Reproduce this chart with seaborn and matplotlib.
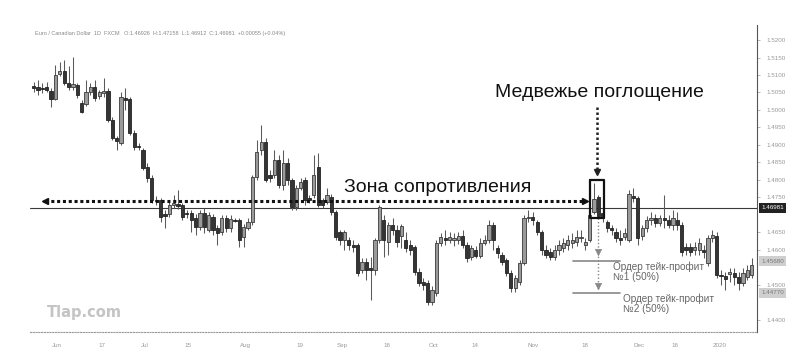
import numpy as np
import pandas as pd
import matplotlib
matplotlib.use("Agg")
import matplotlib.pyplot as plt
import seaborn as sns

# ---- data (EUR/CAD, daily) ----
opens = [1.5068, 1.5065, 1.5063, 1.5065, 1.5054, 1.5031, 1.5103, 1.5111, 1.5077, 1.5065,
         1.5071, 1.5020, 1.5017, 1.5051, 1.5065, 1.5040, 1.5048, 1.5054, 1.4971, 1.4920,
         1.4905, 1.5034, 1.5031, 1.4934, 1.4897, 1.4885, 1.4837, 1.4805, 1.4743, 1.4743,
         1.4703, 1.4703, 1.4728, 1.4731, 1.4728, 1.4705, 1.4705, 1.4691, 1.4665, 1.4705,
         1.4657, 1.4694, 1.4663, 1.4651, 1.4691, 1.4663, 1.4685, 1.4685, 1.4637, 1.4663,
         1.4680, 1.4808, 1.4885, 1.4908, 1.4814, 1.4814, 1.4857, 1.4785, 1.4848, 1.4800,
         1.4723, 1.4777, 1.4800, 1.4748, 1.4757, 1.4837, 1.4743, 1.4737, 1.4751, 1.4708,
         1.4651, 1.4628, 1.4628, 1.4614, 1.4614, 1.4543, 1.4565, 1.4548, 1.4543, 1.4628,
         1.4685, 1.4623, 1.4671, 1.4657, 1.4640, 1.4628, 1.4614, 1.4608, 1.4537, 1.4508,
         1.4505, 1.4451, 1.4477, 1.4620, 1.4634, 1.4628, 1.4628, 1.4628, 1.4640, 1.4614,
         1.4580, 1.4600, 1.4583, 1.4620, 1.4628, 1.4671, 1.4605, 1.4585, 1.4571, 1.4534,
         1.4491, 1.4508, 1.4563, 1.4691, 1.4694, 1.4680, 1.4651, 1.4600, 1.4594, 1.4580,
         1.4600, 1.4605, 1.4614, 1.4620, 1.4623, 1.4634, 1.4614, 1.4628, 1.4708, 1.4751,
         1.4705, 1.4680, 1.4663, 1.4651, 1.4634, 1.4637, 1.4628, 1.4754, 1.4748, 1.4640,
         1.4663, 1.4685, 1.4691, 1.4677, 1.4691, 1.4685, 1.4671, 1.4685, 1.4671, 1.4608,
         1.4608, 1.4600, 1.4600, 1.4600, 1.4563, 1.4634, 1.4640, 1.4528, 1.4525, 1.4531,
         1.4534, 1.4523, 1.4505, 1.4523, 1.4528]
highs = [1.5080, 1.5085, 1.5077, 1.5080, 1.5063, 1.5128, 1.5137, 1.5143, 1.5125, 1.5151,
         1.5077, 1.5028, 1.5085, 1.5077, 1.5085, 1.5057, 1.5091, 1.5063, 1.4980, 1.4925,
         1.5051, 1.5063, 1.5037, 1.4943, 1.4905, 1.4891, 1.4848, 1.4814, 1.4754, 1.4748,
         1.4714, 1.4743, 1.4757, 1.4771, 1.4734, 1.4714, 1.4714, 1.4703, 1.4714, 1.4720,
         1.4708, 1.4703, 1.4671, 1.4700, 1.4700, 1.4700, 1.4691, 1.4691, 1.4674, 1.4691,
         1.4814, 1.4914, 1.4957, 1.4920, 1.4828, 1.4885, 1.4871, 1.4885, 1.4863, 1.4805,
         1.4785, 1.4805, 1.4808, 1.4757, 1.4871, 1.4877, 1.4748, 1.4777, 1.4760, 1.4714,
         1.4657, 1.4657, 1.4637, 1.4628, 1.4620, 1.4577, 1.4577, 1.4580, 1.4634, 1.4728,
         1.4700, 1.4680, 1.4691, 1.4671, 1.4674, 1.4651, 1.4628, 1.4614, 1.4548, 1.4520,
         1.4514, 1.4497, 1.4628, 1.4648, 1.4657, 1.4651, 1.4648, 1.4651, 1.4657, 1.4623,
         1.4614, 1.4611, 1.4634, 1.4643, 1.4685, 1.4680, 1.4614, 1.4594, 1.4577, 1.4543,
         1.4528, 1.4571, 1.4700, 1.4714, 1.4708, 1.4685, 1.4657, 1.4614, 1.4605, 1.4614,
         1.4628, 1.4634, 1.4643, 1.4648, 1.4657, 1.4657, 1.4634, 1.4708, 1.4791, 1.4757,
         1.4714, 1.4685, 1.4671, 1.4663, 1.4657, 1.4663, 1.4771, 1.4777, 1.4754, 1.4671,
         1.4697, 1.4708, 1.4703, 1.4700, 1.4757, 1.4700, 1.4714, 1.4708, 1.4680, 1.4620,
         1.4620, 1.4623, 1.4634, 1.4614, 1.4643, 1.4657, 1.4651, 1.4543, 1.4537, 1.4548,
         1.4548, 1.4537, 1.4548, 1.4557, 1.4577]
lows = [1.5051, 1.5043, 1.5048, 1.5051, 1.5008, 1.5028, 1.5097, 1.5071, 1.5057, 1.5057,
        1.5034, 1.4991, 1.5011, 1.5043, 1.5025, 1.5031, 1.5037, 1.4965, 1.4914, 1.4885,
        1.4900, 1.5000, 1.4928, 1.4885, 1.4885, 1.4828, 1.4794, 1.4734, 1.4728, 1.4680,
        1.4663, 1.4694, 1.4720, 1.4717, 1.4685, 1.4691, 1.4651, 1.4643, 1.4657, 1.4648,
        1.4651, 1.4643, 1.4614, 1.4643, 1.4651, 1.4651, 1.4680, 1.4608, 1.4608, 1.4657,
        1.4671, 1.4800, 1.4871, 1.4794, 1.4794, 1.4805, 1.4777, 1.4771, 1.4785, 1.4714,
        1.4714, 1.4771, 1.4728, 1.4734, 1.4748, 1.4723, 1.4720, 1.4731, 1.4700, 1.4628,
        1.4614, 1.4600, 1.4600, 1.4594, 1.4525, 1.4534, 1.4514, 1.4457, 1.4528, 1.4620,
        1.4580, 1.4585, 1.4643, 1.4608, 1.4605, 1.4594, 1.4585, 1.4528, 1.4497, 1.4485,
        1.4443, 1.4443, 1.4468, 1.4611, 1.4614, 1.4620, 1.4611, 1.4617, 1.4605, 1.4565,
        1.4571, 1.4577, 1.4577, 1.4614, 1.4620, 1.4600, 1.4577, 1.4557, 1.4525, 1.4480,
        1.4480, 1.4500, 1.4557, 1.4680, 1.4671, 1.4643, 1.4585, 1.4577, 1.4571, 1.4571,
        1.4585, 1.4594, 1.4600, 1.4605, 1.4611, 1.4623, 1.4600, 1.4623, 1.4703, 1.4694,
        1.4680, 1.4651, 1.4643, 1.4623, 1.4614, 1.4628, 1.4623, 1.4737, 1.4614, 1.4628,
        1.4651, 1.4671, 1.4665, 1.4668, 1.4663, 1.4663, 1.4657, 1.4657, 1.4583, 1.4585,
        1.4583, 1.4585, 1.4585, 1.4577, 1.4555, 1.4623, 1.4520, 1.4500, 1.4485, 1.4508,
        1.4500, 1.4485, 1.4497, 1.4514, 1.4520]
closes = [1.5063, 1.5057, 1.5060, 1.5057, 1.5031, 1.5100, 1.5111, 1.5077, 1.5065, 1.5074,
          1.5043, 1.4994, 1.5051, 1.5065, 1.5034, 1.5051, 1.5054, 1.4971, 1.4920, 1.4911,
          1.5037, 1.5028, 1.4934, 1.4894, 1.4894, 1.4834, 1.4805, 1.4743, 1.4740, 1.4694,
          1.4697, 1.4728, 1.4734, 1.4725, 1.4694, 1.4703, 1.4685, 1.4665, 1.4705, 1.4665,
          1.4700, 1.4657, 1.4648, 1.4691, 1.4663, 1.4688, 1.4683, 1.4628, 1.4665, 1.4680,
          1.4808, 1.4880, 1.4908, 1.4800, 1.4805, 1.4857, 1.4785, 1.4848, 1.4800, 1.4723,
          1.4777, 1.4794, 1.4743, 1.4743, 1.4814, 1.4728, 1.4728, 1.4757, 1.4708, 1.4637,
          1.4628, 1.4651, 1.4614, 1.4608, 1.4534, 1.4565, 1.4543, 1.4543, 1.4628, 1.4723,
          1.4628, 1.4671, 1.4657, 1.4623, 1.4668, 1.4605, 1.4600, 1.4537, 1.4505, 1.4500,
          1.4451, 1.4485, 1.4620, 1.4637, 1.4628, 1.4637, 1.4634, 1.4640, 1.4614, 1.4577,
          1.4605, 1.4583, 1.4620, 1.4628, 1.4671, 1.4628, 1.4591, 1.4565, 1.4534, 1.4491,
          1.4520, 1.4563, 1.4691, 1.4694, 1.4685, 1.4651, 1.4600, 1.4585, 1.4580, 1.4600,
          1.4614, 1.4620, 1.4628, 1.4628, 1.4637, 1.4637, 1.4623, 1.4700, 1.4745, 1.4697,
          1.4691, 1.4663, 1.4657, 1.4634, 1.4628, 1.4648, 1.4760, 1.4748, 1.4634, 1.4663,
          1.4685, 1.4691, 1.4677, 1.4691, 1.4685, 1.4671, 1.4691, 1.4671, 1.4594, 1.4600,
          1.4594, 1.4608, 1.4620, 1.4594, 1.4634, 1.4643, 1.4528, 1.4525, 1.4517, 1.4537,
          1.4523, 1.4505, 1.4534, 1.4543, 1.4557]

date_ticks = [5.4, 15.6, 25.5, 35.3, 48.3, 60.8, 70.4, 80.7, 91.4, 100.8, 114.0, 125.9, 138.2, 146.5, 156.7]
date_labels = ["Jun", "17", "Jul", "15", "Aug", "19", "Sep", "16", "Oct", "14", "Nov", "18", "Dec", "16", "2020"]
price_ticks = [1.520, 1.515, 1.510, 1.505, 1.500, 1.495, 1.490, 1.485, 1.480, 1.475,
               1.465, 1.460, 1.450, 1.440]

resistance = 1.4720
last_price_label = "1.46981"
tp1_price, tp1_label = 1.4568, "1.45680"
tp2_price, tp2_label = 1.4477, "1.44770"
engulf_idx = [128, 129]

header = ("Euro / Canadian Dollar  1D  FXCM   O:1.46926  H:1.47158  L:1.46912  "
          "C:1.46981  +0.00055 (+0.04%)")

df = pd.DataFrame({"day": np.arange(len(opens)), "open": opens, "high": highs,
                   "low": lows, "close": closes})

sns.set_theme(style="white")
plt.rcParams['font.family'] = ['Liberation Sans', 'DejaVu Sans']

fig = plt.figure(figsize=(8, 3.63), dpi=100)
ax = fig.add_axes([0.0375, 0.0854, 0.90875, 0.8457])
ax.set_facecolor("white")

up = df["close"] >= df["open"]
body = np.maximum((df["close"] - df["open"]).abs(), 0.00018)
bottom = np.minimum(df["open"], df["close"])

ax.vlines(df["day"], df["low"], df["high"], color="#5a5a5a", lw=0.75, zorder=2)
ax.bar(df["day"][up], body[up], bottom=bottom[up], width=0.74,
       color="#9a9a9a", edgecolor="#3a3a3a", linewidth=0.6, zorder=3)
ax.bar(df["day"][~up], body[~up], bottom=bottom[~up], width=0.74,
       color="#353535", edgecolor="#222222", linewidth=0.6, zorder=3)

# resistance line
ax.axhline(resistance, color="#3a3a3a", lw=0.8, zorder=1)

ax.set_xlim(-0.8, 165.2)
ax.set_ylim(1.4365, 1.5243)

# zone arrow (dotted, both directions)
ax.plot([2.6, 125.9], [1.4740, 1.4740], ls=(0, (1.0, 0.9)), color="#111", lw=2.2, zorder=4)
ax.plot([2.6], [1.4740], marker="<", color="#111", ms=5, zorder=4)
ax.plot([125.9], [1.4740], marker=">", color="#111", ms=5, zorder=4)
ax.text(92.4, 1.4777, "Зона сопротивления", ha="center", va="center",
        fontsize=14, color="#111", zorder=5)

# bearish engulfing label and arrow
ax.text(129.3, 1.5051, "Медвежье поглощение", ha="center", va="center",
        fontsize=14, color="#111", zorder=5)
ax.plot([128.7, 128.7], [1.5008, 1.4830], ls=(0, (1.0, 1.0)), color="#222", lw=1.8, zorder=4)
ax.plot([128.7], [1.4822], marker="v", color="#222", ms=5, zorder=4)
x0, x1 = engulf_idx[0] - 0.9, engulf_idx[1] + 1.2
ax.plot([x0, x1, x1, x0, x0], [1.4800, 1.4800, 1.4692, 1.4692, 1.4800],
        color="#111", lw=1.6, zorder=5)

# take profit levels
ax.plot([128.8, 128.8], [1.4690, 1.4486], ls=(0, (1.0, 1.5)), color="#888", lw=1.0, zorder=4)
sns.scatterplot(x=[128.8, 128.8], y=[1.4594, 1.4497], marker="v", color="#888",
                s=22, edgecolor="#888", ax=ax, zorder=5, legend=False)
ax.plot([123.2, 133.9], [tp1_price, tp1_price], color="#888", lw=1.2, zorder=4)
ax.plot([123.2, 133.9], [tp2_price, tp2_price], color="#888", lw=1.2, zorder=4)
ax.text(132.3, 1.4566, "Ордер тейк-профит\n№1 (50%)", ha="left", va="top",
        fontsize=7.2, color="#666", linespacing=1.0, zorder=5)
ax.text(134.7, 1.4474, "Ордер тейк-профит\n№2 (50%)", ha="left", va="top",
        fontsize=7.2, color="#666", linespacing=1.0, zorder=5)

# axes styling
for s in ["left", "top"]:
    ax.spines[s].set_visible(False)
ax.spines["right"].set_color("#555")
ax.spines["right"].set_linewidth(0.8)
ax.spines["bottom"].set_color("#999")
ax.spines["bottom"].set_linestyle((0, (1, 1.5)))
ax.spines["bottom"].set_linewidth(0.8)

ax.yaxis.tick_right()
ax.set_yticks(price_ticks)
ax.set_yticklabels([f"{p:.4f}" for p in price_ticks])
ax.tick_params(axis="y", labelsize=4.5, colors="#999", length=2, width=0.5, pad=5)
ax.set_xticks(date_ticks)
ax.set_xticklabels(date_labels)
ax.tick_params(axis="x", labelsize=4.5, colors="#999", length=0, pad=8)
ax.grid(False)

# price tags on the right axis
ax.text(1.006, resistance, last_price_label, transform=ax.get_yaxis_transform(),
        ha="left", va="center", fontsize=4.5, color="white", zorder=6, clip_on=False,
        bbox=dict(boxstyle="square,pad=0.35", fc="#222", ec="none"))
for p, lab in [(tp1_price, tp1_label), (tp2_price, tp2_label)]:
    ax.text(1.006, p, lab, transform=ax.get_yaxis_transform(), ha="left", va="center",
            fontsize=4.5, color="#777", zorder=6, clip_on=False,
            bbox=dict(boxstyle="square,pad=0.35", fc="#cfcfcf", ec="none"))

# header and watermark
fig.text(35 / 800, 1 - 33 / 363, header, fontsize=4, color="#888", va="center", ha="left")
fig.text(47 / 800, 1 - 312 / 363, "Tlap.com", fontsize=10.5, fontweight="bold",
         color="#c4c4c4", va="center", ha="left", family=["DejaVu Sans"])

fig.savefig("out.png", dpi=100, facecolor="white")
